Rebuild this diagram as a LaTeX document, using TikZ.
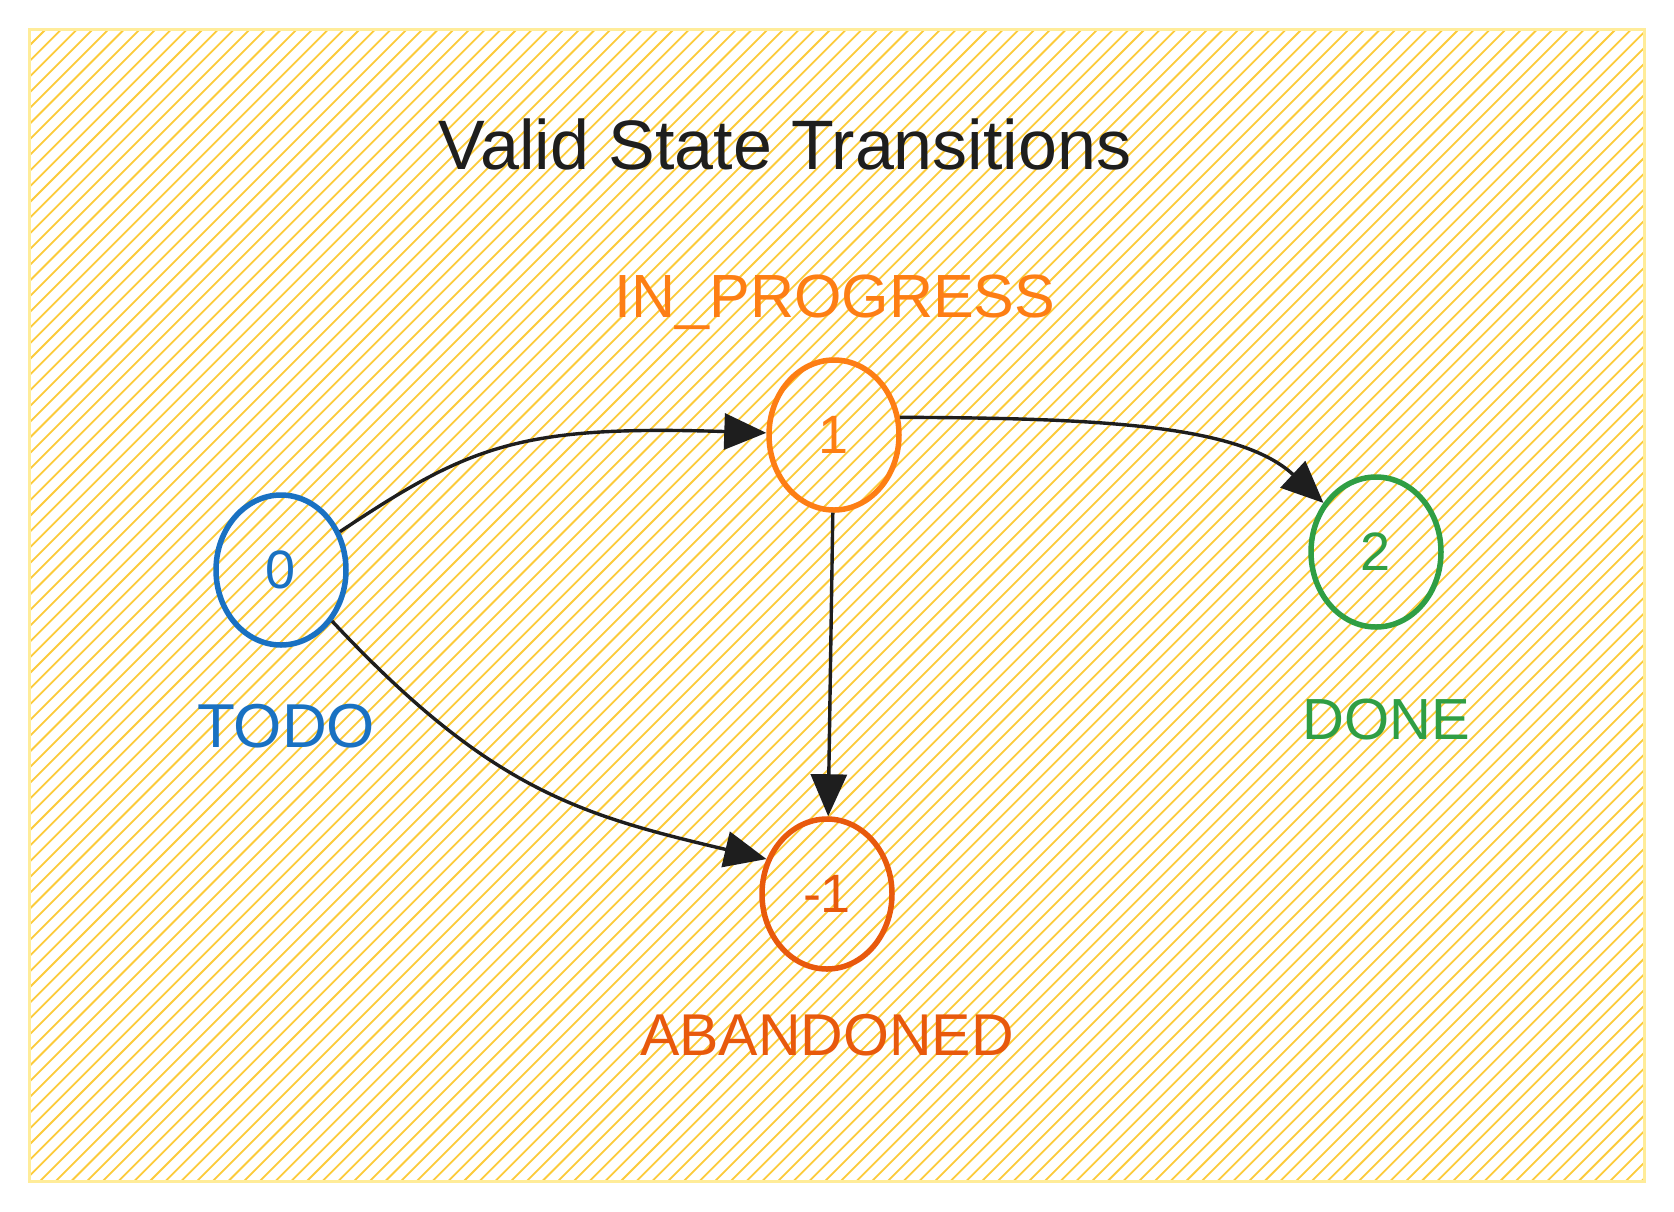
\documentclass[tikz,border=0pt]{standalone}
\usepackage{fontspec}
\setmainfont{Liberation Sans}
\usetikzlibrary{shapes.geometric,arrows.meta}
\definecolor{hatchc}{HTML}{FCCB3A}
\definecolor{framec}{HTML}{FFEC99}
\definecolor{todoc}{HTML}{1971C2}
\definecolor{progc}{HTML}{FD7E14}
\definecolor{abanc}{HTML}{E8590C}
\definecolor{donec}{HTML}{2F9E44}
\definecolor{inkc}{HTML}{1E1E1E}
\tikzset{
  hatchline/.style={draw=hatchc, line width=1.8pt},
  statenode/.style={ellipse, draw, line width=5.5pt, minimum width=130pt, minimum height=150pt, inner sep=0pt, font=\fontsize{54}{54}\selectfont},
  lbl/.style={anchor=base, inner sep=0pt},
  trans/.style={draw=inkc, line width=3.4pt, -{Triangle[length=42pt,width=36pt]}},
}
\begin{document}
\begin{tikzpicture}[x=1pt,y=-1pt]
\useasboundingbox (0,0) rectangle (1674,1211);
\fill[white] (0,0) rectangle (1674,1211);
\begin{scope}
  \clip (29,29) rectangle (1644,1181);
  \foreach \c in {12.2,27.9,...,2860} {
    \draw[hatchline] (\c,0) -- (\c-1300,1300);
  }
\end{scope}
\draw[draw=framec, line width=3pt] (29,29) rectangle (1644,1181);

\node[lbl, text=inkc, font=\fontsize{70}{70}\selectfont] (title) at (785,169) {Valid State Transitions};

\node[statenode, draw=todoc, text=todoc] (n0) at (281,570) {0};
\node[statenode, draw=progc, text=progc] (n1) at (834,435) {1};
\node[statenode, draw=abanc, text=abanc] (nm1) at (827,894) {-1};
\node[statenode, draw=donec, text=donec] (n2) at (1376,552) {2};

\node[lbl, text=progc, font=\fontsize{61}{61}\selectfont] (lprog) at (835,317) {IN\_PROGRESS};
\node[lbl, text=todoc, font=\fontsize{62}{62}\selectfont] (ltodo) at (286,747) {TODO};
\node[lbl, text=donec, font=\fontsize{58}{58}\selectfont] (ldone) at (1386,739) {DONE};
\node[lbl, text=abanc, font=\fontsize{59}{59}\selectfont] (laban) at (827,1055) {ABANDONED};

\draw[trans] (n0.33) .. controls (470,445) and (520,425) .. (n1);
\draw[trans] (n1.15) .. controls (1100,418) and (1240,425) .. (n2);
\draw[trans] (n1) -- (nm1);
\draw[trans] (n0.-45) .. controls (490,790) and (580,815) .. (nm1.150);
\end{tikzpicture}
\end{document}
